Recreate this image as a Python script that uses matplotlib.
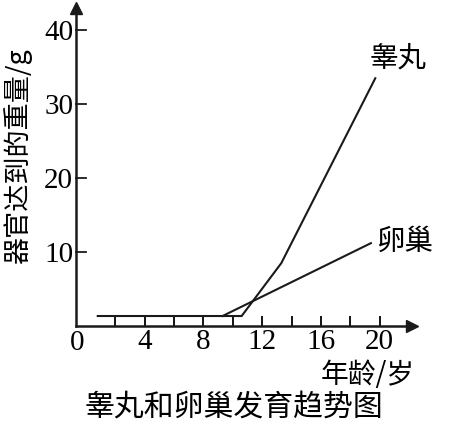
import matplotlib.pyplot as plt

plt.rcParams['font.family'] = ['Noto Sans CJK SC', 'DejaVu Sans']

# data
testis_age = [0.8, 10.6, 13.3, 19.7]
testis_weight = [1.35, 1.35, 8.5, 33.5]
ovary_age = [9.3, 19.4]
ovary_weight = [1.35, 11.2]
x_major = [4, 8, 12, 16, 20]
x_minor = [2, 6, 10, 14, 18]
y_ticks = [10, 20, 30, 40]

W, H = 468, 430
fig = plt.figure(figsize=(W / 100, H / 100), dpi=100)
ax = fig.add_axes([76 / W, 1 - 326 / H, (412 - 76) / W, (326 - 8) / H])

ax.plot(testis_age, testis_weight, color='#1a1a1a', lw=1.5, solid_joinstyle='miter')
ax.plot(ovary_age, ovary_weight, color='#1a1a1a', lw=1.5)

ax.set_xlim(-0.68, 22.2)
ax.set_ylim(0, 43)

for s in ['top', 'right']:
    ax.spines[s].set_visible(False)
for s in ['left', 'bottom']:
    ax.spines[s].set_linewidth(1.8)
    ax.spines[s].set_color('#1a1a1a')

# arrow heads on axes
ax.plot(1, 0, marker='>', color='#1a1a1a', ms=9, transform=ax.transAxes, clip_on=False)
ax.plot(0, 1, marker='^', color='#1a1a1a', ms=9, transform=ax.transAxes, clip_on=False)

serif = 'Liberation Serif'
ax.set_xticks(x_major)
ax.set_xticks(x_minor, minor=True)
ax.set_xticklabels([str(v) for v in x_major], fontfamily=serif, fontsize=21)
ax.set_yticks(y_ticks)
ax.set_yticklabels([str(v) for v in y_ticks], fontfamily=serif, fontsize=21)
ax.tick_params(axis='x', which='both', direction='in', length=7.5, width=1.3, pad=2)
ax.tick_params(axis='y', direction='in', length=7.5, width=1.3, pad=2)
ax.yaxis.set_tick_params(which='major', left=False, right=False)
# y ticks point right from the axis
for v in y_ticks:
    ax.plot([-0.68, 0.0], [v, v], color='#1a1a1a', lw=1.3, clip_on=False)

fig.text(77 / W, 1 - 343 / H, '0', fontfamily=serif, fontsize=21, ha='center', va='center')

fig.text(370 / W, 1 - 59 / H, '睾丸', fontsize=20.5, ha='left', va='center')
fig.text(376 / W, 1 - 242 / H, '卵巢', fontsize=20.5, ha='left', va='center')
fig.text(18 / W, 1 - 156 / H, '器官达到的重量/g', fontsize=19.5, rotation=90,
         ha='center', va='center')
fig.text(321 / W, 1 - 375 / H, '年龄/岁', fontsize=20, ha='left', va='center')
fig.text(234 / W, 1 - 408 / H, '睾丸和卵巢发育趋势图', fontsize=21.5, ha='center', va='center')

fig.savefig('out.png', dpi=100)
